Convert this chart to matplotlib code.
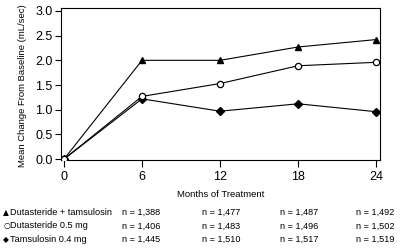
import matplotlib
matplotlib.use("Agg")
import matplotlib.pyplot as plt

months = [0, 6, 12, 18, 24]
combo = [0.0, 2.0, 2.0, 2.27, 2.42]
dut = [0.0, 1.27, 1.53, 1.89, 1.96]
tam = [0.0, 1.22, 0.97, 1.12, 0.96]

row_labels = ["Dutasteride + tamsulosin", "Dutasteride 0.5 mg", "Tamsulosin 0.4 mg"]
row_marks = ["\u25B2", "\u25CB", "\u25C6"]
n_combo = ["1,388", "1,477", "1,487", "1,492"]
n_dut = ["1,406", "1,483", "1,496", "1,502"]
n_tam = ["1,445", "1,510", "1,517", "1,519"]

plt.rcParams["font.family"] = ["Liberation Sans", "DejaVu Sans"]

fig = plt.figure(figsize=(4.0, 2.49), dpi=100)
ax = fig.add_axes([0.1525, 0.357, 0.7975, 0.611])

ax.plot(months, combo, color="black", lw=0.8, marker="^", ms=4.5, mfc="black", zorder=3)
ax.plot(months, dut, color="black", lw=0.8, marker="o", ms=4.5, mfc="white", mew=0.9, zorder=4)
ax.plot(months, tam, color="black", lw=0.8, marker="D", ms=4, mfc="black", zorder=3)

ax.set_xlim(-0.23, 24.3)
ax.set_ylim(-0.02, 3.06)
ax.set_xticks(months)
ax.set_yticks([0.0, 0.5, 1.0, 1.5, 2.0, 2.5, 3.0])
ax.set_yticklabels([f"{v:.1f}" for v in ax.get_yticks()])
ax.tick_params(axis="both", labelsize=9, width=0.8, length=4, direction="out", pad=2)
ax.tick_params(axis="x", length=5, pad=3)
for s in ax.spines.values():
    s.set_linewidth(0.8)

ax.set_ylabel("Mean Change From Baseline (mL/sec)", fontsize=6.8)
ax.yaxis.set_label_coords(-0.108, 0.49)
ax.set_xlabel("Months of Treatment", fontsize=6.8, labelpad=5)

rows = [(row_marks[0], row_labels[0], n_combo),
        (row_marks[1], row_labels[1], n_dut),
        (row_marks[2], row_labels[2], n_tam)]
col_x = [0.305, 0.505, 0.70, 0.89]
row_y = [0.148, 0.093, 0.040]
for (mk, lab, ns), y in zip(rows, row_y):
    fig.text(0.008, y, mk, fontsize=5.5, va="center", ha="left", family="DejaVu Sans")
    fig.text(0.026, y, lab, fontsize=6.6, va="center", ha="left")
    for x, n in zip(col_x, ns):
        fig.text(x, y, f"n = {n}", fontsize=6.6, va="center", ha="left")

fig.savefig("out.png", dpi=100)
